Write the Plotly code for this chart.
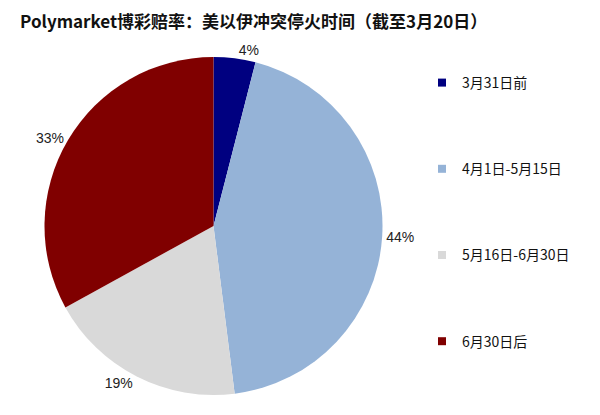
import plotly.graph_objects as go

labels = ['3月31日前', '4月1日-5月15日', '5月16日-6月30日', '6月30日后']
values = [4, 44, 19, 33]
colors = ['#000080', '#95B3D7', '#D9D9D9', '#800000']

title_text = 'Polymarket博彩赔率：美以伊冲突停火时间（截至3月20日）'

fig = go.Figure()

fig.add_trace(go.Pie(
    labels=labels,
    values=values,
    sort=False,
    direction='clockwise',
    rotation=0,
    marker=dict(colors=colors, line=dict(color='white', width=0)),
    textinfo='percent',
    texttemplate='%{percent:.0%}',
    textposition='outside',
    textfont=dict(family='Liberation Sans, Arial', size=14, color='#222222'),
    domain=dict(x=[36 / 600, 375 / 600], y=[28 / 415, 366 / 415]),
    showlegend=False,
))

# legend entries: one group per category so they can be spread out like the original
for lab, col in zip(labels, colors):
    fig.add_trace(go.Scatter(
        x=[None], y=[None],
        mode='markers',
        name=lab,
        legendgroup=lab,
        marker=dict(symbol='square', size=8, color=col),
        showlegend=True,
    ))

fig.update_xaxes(visible=False)
fig.update_yaxes(visible=False)

fig.update_layout(
    width=600,
    height=415,
    margin=dict(l=0, r=0, t=0, b=0),
    paper_bgcolor='white',
    plot_bgcolor='white',
    title=dict(
        text='<b>' + title_text + '</b>',
        x=12 / 600, xanchor='left',
        y=1 - 14 / 415, yanchor='middle',
        font=dict(family='Noto Sans CJK SC', size=17, color='#111111'),
    ),
    legend=dict(
        x=414 / 600, xanchor='left',
        y=1 - 59 / 415, yanchor='top',
        font=dict(family='Noto Sans CJK SC, Liberation Sans', size=14, color='#111111'),
        tracegroupgap=65,
        itemwidth=30,
        traceorder='grouped',
    ),
)

fig.write_html("out.html")
